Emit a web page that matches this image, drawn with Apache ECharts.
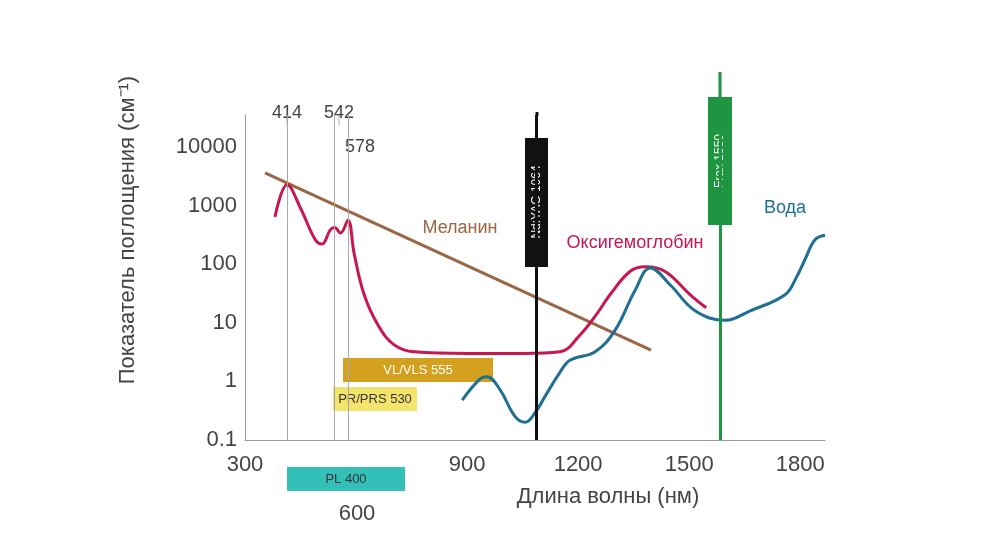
<!DOCTYPE html>
<html><head><meta charset="utf-8">
<script src="https://cdn.jsdelivr.net/npm/echarts@6/dist/echarts.min.js"></script>
<style>html,body{margin:0;background:#fff}#c{width:1000px;height:555px}</style>
</head><body><div id="c"></div>
<script>
// wavelength (nm) / absorption (cm^-1)
var melanin = [[354, 3600], [1397, 3.4]];
var oxyHb = [[381, 640], [414, 2250], [450, 900], [490, 260], [508, 220], [530, 380], [542, 420], [558, 340], [578, 560], [595, 150], [622, 30], [660, 9], [703, 4.2], [757, 3.2], [900, 3], [1050, 3], [1151, 3.2], [1205, 6.2], [1250, 14], [1286, 30], [1340, 75], [1381, 90], [1435, 75], [1503, 30], [1546, 18]];
var water = [[887, 0.48], [935, 1.1], [954, 1.2], [989, 0.72], [1030, 0.25], [1057, 0.2], [1085, 0.3], [1111, 0.56], [1150, 1.4], [1178, 2.3], [1246, 3.2], [1300, 7.5], [1354, 36], [1395, 86], [1449, 44], [1516, 16], [1597, 11], [1665, 16], [1759, 30], [1790, 60], [1813, 120], [1840, 260], [1867, 310]];
var xTicks = [300, 900, 1200, 1500, 1800];
var refLines = [414, 542, 578];
var ndyagPos = 1088;
var fraxPos = 1584;

var chart = echarts.init(document.getElementById('c'));
var font = 'Helvetica, "Liberation Sans", Arial, sans-serif';
var txt = '#444';

chart.setOption({
  animation: false,
  grid: {left: 245, right: 175, top: 115, bottom: 115},
  xAxis: {
    type: 'value', min: 300, max: 1867,
    axisLine: {lineStyle: {color: '#999'}}, axisTick: {show: false}, splitLine: {show: false},
    axisLabel: {
      color: txt, fontSize: 22, fontFamily: font, margin: 14,
      customValues: xTicks, formatter: function (v) { return String(v); }
    }
  },
  yAxis: {
    type: 'log', min: 0.1, max: 35000, logBase: 10,
    axisLine: {show: true, lineStyle: {color: '#999'}}, axisTick: {show: false}, splitLine: {show: false},
    axisLabel: {color: txt, fontSize: 22, fontFamily: font, margin: 8, showMaxLabel: false,
      formatter: function (v) { return v > 20000 ? '' : (v < 1 ? '0.1' : String(Math.round(v))); }}
  },
  series: [
    {type: 'line', data: melanin, symbol: 'none', lineStyle: {color: '#9a6644', width: 3}},
    {type: 'line', data: oxyHb, symbol: 'none', smooth: 0.4, lineStyle: {color: '#c8174e', width: 3}},
    {type: 'line', data: water, symbol: 'none', smooth: 0.4, lineStyle: {color: '#1f6e93', width: 3},
      markLine: {silent: true, symbol: 'none', label: {show: false},
        data: refLines.map(function (v) { return {xAxis: v, lineStyle: {color: '#aaa', width: 1, type: 'solid'}}; })
          .concat([{xAxis: ndyagPos, lineStyle: {color: '#111', width: 3, type: 'solid'}},
                   {xAxis: fraxPos, lineStyle: {color: '#1e9640', width: 3, type: 'solid'}}])}}
  ],
  graphic: [
    {type: 'line', shape: {x1: 537, y1: 116, x2: 537, y2: 112}, style: {stroke: '#111', lineWidth: 3}},
    {type: 'line', shape: {x1: 720, y1: 116, x2: 720, y2: 72}, style: {stroke: '#1e9640', lineWidth: 3}},
    {type: 'line', shape: {x1: 287, y1: 115, x2: 287, y2: 125}, style: {stroke: '#aaa', lineWidth: 1}},
    {type: 'line', shape: {x1: 339, y1: 115, x2: 339, y2: 125}, style: {stroke: '#aaa', lineWidth: 1}},
    {type: 'text', x: 287, y: 113, style: {text: '414', fill: txt, font: '18px ' + font, textAlign: 'center', textVerticalAlign: 'middle'}},
    {type: 'text', x: 339, y: 113, style: {text: '542', fill: txt, font: '18px ' + font, textAlign: 'center', textVerticalAlign: 'middle'}},
    {type: 'text', x: 360, y: 147, style: {text: '578', fill: txt, font: '18px ' + font, textAlign: 'center', textVerticalAlign: 'middle'}},
    {type: 'rect', shape: {x: 525, y: 138, width: 23, height: 129}, style: {fill: '#111'}},
    {type: 'text', x: 537, y: 202, rotation: Math.PI / 2, style: {text: 'Nd:YAG 1064', fill: '#fff', font: '12px ' + font, textAlign: 'center', textVerticalAlign: 'middle'}},
    {type: 'rect', shape: {x: 708, y: 97, width: 24, height: 128}, style: {fill: '#1e9640'}},
    {type: 'text', x: 720, y: 161, rotation: Math.PI / 2, style: {text: 'Frax 1550', fill: '#fff', font: '12px ' + font, textAlign: 'center', textVerticalAlign: 'middle'}},
    {type: 'rect', shape: {x: 343, y: 358, width: 150, height: 24}, style: {fill: '#d4a11e'}},
    {type: 'text', x: 418, y: 370, style: {text: 'VL/VLS 555', fill: '#fff', font: '13px ' + font, textAlign: 'center', textVerticalAlign: 'middle'}},
    {type: 'rect', shape: {x: 333, y: 387, width: 84, height: 24}, style: {fill: '#f4e46b'}},
    {type: 'text', x: 375, y: 399, style: {text: 'PR/PRS 530', fill: '#333', font: '13px ' + font, textAlign: 'center', textVerticalAlign: 'middle'}},
    {type: 'rect', shape: {x: 287, y: 467, width: 118, height: 24}, style: {fill: '#33c0b8'}},
    {type: 'text', x: 346, y: 479, style: {text: 'PL 400', fill: '#333', font: '13px ' + font, textAlign: 'center', textVerticalAlign: 'middle'}},
    {type: 'text', x: 357, y: 514, style: {text: '600', fill: txt, font: '22px ' + font, textAlign: 'center', textVerticalAlign: 'middle'}},
    {type: 'text', x: 460, y: 228, style: {text: 'Меланин', fill: '#9a6644', font: '18px ' + font, textAlign: 'center', textVerticalAlign: 'middle'}},
    {type: 'text', x: 635, y: 243, style: {text: 'Оксигемоглобин', fill: '#c8174e', font: '18px ' + font, textAlign: 'center', textVerticalAlign: 'middle'}},
    {type: 'text', x: 785, y: 208, style: {text: 'Вода', fill: '#1f6e93', font: '18px ' + font, textAlign: 'center', textVerticalAlign: 'middle'}},
    {type: 'text', x: 608, y: 497, style: {text: 'Длина волны (нм)', fill: txt, font: '22px ' + font, textAlign: 'center', textVerticalAlign: 'middle'}},
    {type: 'text', x: 128, y: 230, rotation: Math.PI / 2, style: {text: 'Показатель поглощения (см⁻¹)', fill: txt, font: '22px ' + font, textAlign: 'center', textVerticalAlign: 'middle'}}
  ]
});
</script></body></html>
